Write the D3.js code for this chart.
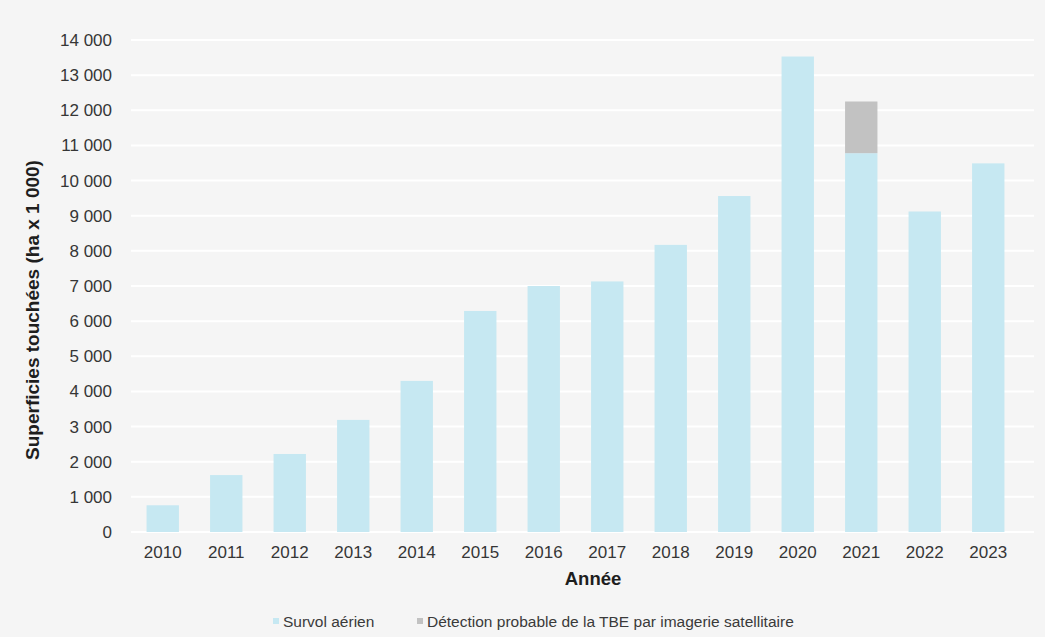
<!DOCTYPE html>
<html>
<head>
<meta charset="utf-8">
<script src="https://cdn.jsdelivr.net/npm/d3@7"></script>
<style>
  body { margin: 0; background: #f5f5f5; }
  svg { font-family: "Liberation Sans", Arial, sans-serif; }
  .tick text { fill: #363636; font-size: 17px; }
</style>
</head>
<body>
<svg id="chart" width="1045" height="637"></svg>
<script>
const years = ['2010', '2011', '2012', '2013', '2014', '2015', '2016', '2017', '2018', '2019', '2020', '2021', '2022', '2023'];
const survol = [760, 1620, 2220, 3190, 4300, 6290, 7000, 7130, 8170, 9560, 13530, 10780, 9120, 10490];
const satellite = [0, 0, 0, 0, 0, 0, 0, 0, 0, 0, 0, 1470, 0, 0];
const yTicks = [0, 1000, 2000, 3000, 4000, 5000, 6000, 7000, 8000, 9000, 10000, 11000, 12000, 13000, 14000];
const seriesNames = ['Survol aérien', 'Détection probable de la TBE par imagerie satellitaire'];
const colors = ['#c6e8f2', '#c2c2c2'];

const svg = d3.select('#chart');

const plotLeft = 131, plotRight = 1020, plotTop = 40, plotBottom = 532;

const yScale = d3.scaleLinear()
  .range([plotBottom, plotTop])
  .domain([0, 14000]);

const xScale = d3.scaleBand()
  .range([plotLeft, plotRight])
  .domain(years)
  .paddingInner(0.49)
  .paddingOuter(0.245);

const fmt = (v) => d3.format(',')(v).replace(/,/g, ' ');

// gridlines
svg.append('g')
  .selectAll('line')
  .data(yTicks)
  .enter()
  .append('line')
  .attr('x1', plotLeft)
  .attr('x2', plotRight + 14)
  .attr('y1', (d) => yScale(d))
  .attr('y2', (d) => yScale(d))
  .attr('stroke', '#ffffff')
  .attr('stroke-width', 2);

// bars
const stacked = years.map((y, i) => ({ year: y, a: survol[i], b: satellite[i] }));

svg.append('g')
  .selectAll('rect')
  .data(stacked)
  .enter()
  .append('rect')
  .attr('x', (d) => xScale(d.year))
  .attr('y', (d) => yScale(d.a))
  .attr('width', xScale.bandwidth())
  .attr('height', (d) => plotBottom - yScale(d.a))
  .attr('fill', colors[0]);

svg.append('g')
  .selectAll('rect')
  .data(stacked.filter((d) => d.b > 0))
  .enter()
  .append('rect')
  .attr('x', (d) => xScale(d.year))
  .attr('y', (d) => yScale(d.a + d.b))
  .attr('width', xScale.bandwidth())
  .attr('height', (d) => yScale(d.a) - yScale(d.a + d.b))
  .attr('fill', colors[1]);

// axes
const yAxis = svg.append('g')
  .attr('transform', `translate(${plotLeft - 12}, 0)`)
  .call(d3.axisLeft(yScale).tickValues(yTicks).tickFormat(fmt).tickSize(0).tickPadding(7));
yAxis.select('.domain').remove();

const xAxis = svg.append('g')
  .attr('transform', `translate(0, ${plotBottom + 8})`)
  .call(d3.axisBottom(xScale).tickSize(0).tickPadding(6));
xAxis.select('.domain').remove();

svg.append('text')
  .attr('x', -310)
  .attr('y', 39)
  .attr('transform', 'rotate(-90)')
  .attr('text-anchor', 'middle')
  .attr('font-size', 19)
  .attr('font-weight', 'bold')
  .attr('fill', '#1e1e1e')
  .text('Superficies touchées (ha x 1 000)');

svg.append('text')
  .attr('x', 593)
  .attr('y', 585)
  .attr('text-anchor', 'middle')
  .attr('font-size', 18.5)
  .attr('font-weight', 'bold')
  .attr('fill', '#1e1e1e')
  .text('Année');

// legend
const legendX = [273, 417];
const legend = svg.append('g')
  .selectAll('g')
  .data(seriesNames)
  .enter()
  .append('g')
  .attr('transform', (d, i) => `translate(${legendX[i]}, 621)`);

legend.append('rect')
  .attr('x', 0)
  .attr('y', -3)
  .attr('width', 6)
  .attr('height', 6)
  .attr('fill', (d, i) => colors[i]);

legend.append('text')
  .attr('x', 10)
  .attr('y', 5.5)
  .attr('font-size', 15.5)
  .attr('fill', '#3a3a3a')
  .text((d) => d);
</script>
</body>
</html>
